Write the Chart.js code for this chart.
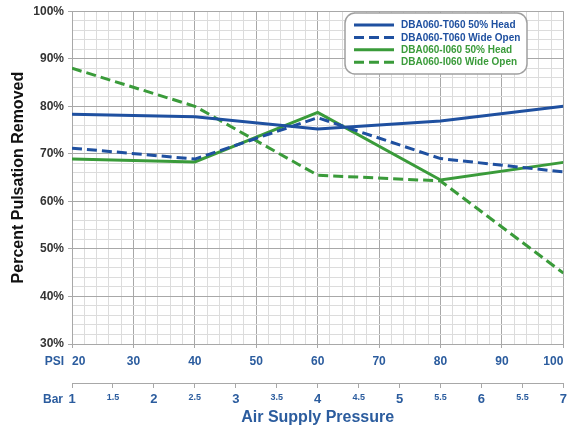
<!DOCTYPE html>
<html>
<head>
<meta charset="utf-8">
<script src="https://cdn.jsdelivr.net/npm/chart.js@4/dist/chart.umd.min.js"></script>
<style>
  html, body { margin: 0; padding: 0; background: #fff; }
  #wrap { width: 571px; height: 434px; }
</style>
</head>
<body>
<div id="wrap"><canvas id="chart"></canvas></div>
<script>
// values
var psi = [20, 40, 60, 80, 100];
var t060Head = [78.3, 77.8, 75.2, 76.9, 80.0];
var t060Open = [71.2, 68.9, 77.6, 69.0, 66.2];
var i060Head = [68.9, 68.3, 78.7, 64.5, 68.2];
var i060Open = [88.0, 80.0, 65.5, 64.3, 44.9];
var barLabels = ['1', '1.5', '2', '2.5', '3', '3.5', '4', '4.5', '5', '5.5', '6', '5.5', '7'];

var BLUE = '#1f50a0';
var GREEN = '#3a9b3a';
var TEXTBLUE = '#2b5c9e';
var MAJOR = '#a8a8a8';
var MINOR = '#dcdcdc';
var FONT = 'Arial, "Liberation Sans", sans-serif';

function pts(arr) {
    return psi.map(function (p, i) { return { x: p, y: arr[i] }; });
}

// legend box inside the plot + PSI / Bar row labels
var extras = {
    id: 'extras',
    afterDraw: function (chart) {
        var ctx = chart.ctx;
        var xs = chart.scales.x, bs = chart.scales.bar;
        ctx.save();
        ctx.font = 'bold 12px ' + FONT;
        ctx.fillStyle = TEXTBLUE;
        ctx.textAlign = 'right';
        ctx.textBaseline = 'middle';
        ctx.fillText('PSI', chart.chartArea.left - 8, xs.top + 18);
        ctx.fillText('Bar', chart.chartArea.left - 9, bs.top + 17);

        // legend
        var bx = 345, by = 13, bw = 182, bh = 61;
        ctx.beginPath();
        ctx.roundRect(bx, by, bw, bh, 10);
        ctx.fillStyle = '#fff';
        ctx.fill();
        ctx.lineWidth = 1.5;
        ctx.strokeStyle = '#a0a0a0';
        ctx.stroke();
        ctx.textAlign = 'left';
        ctx.font = 'bold 10px ' + FONT;
        chart.data.datasets.forEach(function (ds, i) {
            var y = by + 12 + i * 12.4;
            ctx.beginPath();
            ctx.setLineDash(ds.borderDash || []);
            ctx.lineWidth = 3;
            ctx.strokeStyle = ds.borderColor;
            ctx.moveTo(bx + 9, y);
            ctx.lineTo(bx + 49, y);
            ctx.stroke();
            ctx.setLineDash([]);
            ctx.fillStyle = ds.borderColor;
            ctx.fillText(ds.label, bx + 56, y + 0.5);
        });
        ctx.restore();
    }
};

var ctx = document.getElementById('chart').getContext('2d');
var myChart = new Chart(ctx, {
    type: 'line',
    data: {
        datasets: [{
            label: 'DBA060-T060 50% Head',
            data: pts(t060Head),
            borderColor: BLUE,
            borderWidth: 3
        }, {
            label: 'DBA060-T060 Wide Open',
            data: pts(t060Open),
            borderColor: BLUE,
            borderWidth: 3,
            borderDash: [10, 5]
        }, {
            label: 'DBA060-I060 50% Head',
            data: pts(i060Head),
            borderColor: GREEN,
            borderWidth: 3
        }, {
            label: 'DBA060-I060 Wide Open',
            data: pts(i060Open),
            borderColor: GREEN,
            borderWidth: 3,
            borderDash: [10, 5]
        }]
    },
    options: {
        responsive: true,
        maintainAspectRatio: false,
        animation: false,
        layout: { padding: { top: 9, right: 5, left: 0, bottom: 0 } },
        elements: { point: { radius: 0 }, line: { tension: 0 } },
        plugins: {
            legend: { display: false },
            tooltip: { enabled: false }
        },
        scales: {
            x: {
                type: 'linear',
                position: 'bottom',
                min: 20,
                max: 100,
                afterFit: function (s) { s.height = 39; },
                ticks: {
                    stepSize: 2,
                    autoSkip: false,
                    maxRotation: 0,
                    align: 'inner',
                    padding: 6,
                    color: TEXTBLUE,
                    font: { family: FONT, size: 12, weight: 'bold' },
                    callback: function (v) { return v % 10 === 0 ? v : ''; }
                },
                grid: {
                    color: function (c) { return c.tick && c.tick.value % 10 === 0 ? MAJOR : MINOR; },
                    tickColor: function (c) { return c.tick && c.tick.value % 10 === 0 ? MAJOR : 'rgba(0,0,0,0)'; },
                    tickLength: 4
                },
                border: { color: MAJOR }
            },
            bar: {
                type: 'linear',
                axis: 'x',
                position: 'bottom',
                min: 1,
                max: 7,
                afterFit: function (s) { s.height = 51; },
                ticks: {
                    stepSize: 0.5,
                    autoSkip: false,
                    maxRotation: 0,
                    padding: 4,
                    color: TEXTBLUE,
                    font: function (c) {
                        var whole = c.tick && c.tick.value % 1 === 0;
                        return { family: FONT, size: whole ? 13 : 9, weight: 'bold' };
                    },
                    callback: function (v, i) { return barLabels[i]; }
                },
                grid: { drawOnChartArea: false, tickLength: 5, tickColor: MAJOR },
                border: { color: MAJOR },
                title: {
                    display: true,
                    text: 'Air Supply Pressure',
                    color: TEXTBLUE,
                    font: { family: FONT, size: 16, weight: 'bold' },
                    padding: { top: 0, bottom: 7 }
                }
            },
            y: {
                min: 30,
                max: 100,
                afterFit: function (s) { s.width = 72; },
                ticks: {
                    stepSize: 2,
                    autoSkip: false,
                    padding: 4,
                    color: '#333',
                    font: { family: FONT, size: 12, weight: 'bold' },
                    callback: function (v) { return v % 10 === 0 ? v + '%' : ''; }
                },
                grid: {
                    color: function (c) { return c.tick && c.tick.value % 10 === 0 ? MAJOR : MINOR; },
                    tickColor: function (c) { return c.tick && c.tick.value % 10 === 0 ? MAJOR : 'rgba(0,0,0,0)'; },
                    tickLength: 4
                },
                border: { color: MAJOR },
                title: {
                    display: true,
                    text: 'Percent Pulsation Removed',
                    color: '#111',
                    font: { family: FONT, size: 16, weight: 'bold' },
                    padding: { top: 9, bottom: 0 }
                }
            }
        }
    },
    plugins: [extras]
});
</script>
</body>
</html>
